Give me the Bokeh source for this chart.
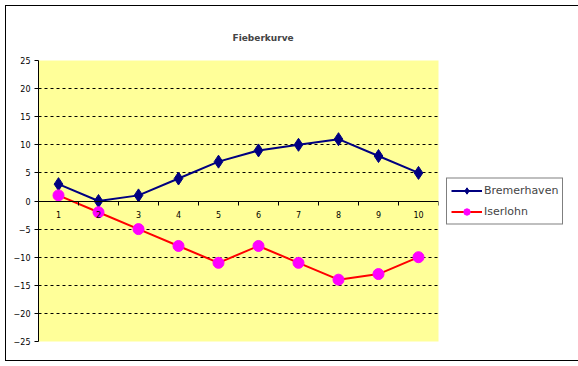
from bokeh.plotting import figure
from bokeh.models import FixedTicker, Legend, LegendItem, Range1d
from bokeh.embed import file_html
from bokeh.resources import INLINE

days = [1, 2, 3, 4, 5, 6, 7, 8, 9, 10]
bremerhaven = [3, 0, 1, 4, 7, 9, 10, 11, 8, 5]
iserlohn = [1, -2, -5, -8, -11, -8, -11, -14, -13, -10]
y_ticks = [-25, -20, -15, -10, -5, 0, 5, 10, 15, 20, 25]
grid_ticks = [-20, -15, -10, -5, 5, 10, 15, 20]
cat_bounds = [d - 0.5 for d in days] + [days[-1] + 0.5]

p = figure(frame_width=400, frame_height=281, output_backend="svg", toolbar_location=None,
           x_range=Range1d(0.5, 10.5), y_range=Range1d(-25, 25),
           min_border_left=32, min_border_right=134, min_border_top=54, min_border_bottom=19)
p.background_fill_color = "#FFFF99"
p.border_fill_color = "white"
p.outline_line_color = None
p.styles = {"border": "1px solid black", "margin": "5px"}

p.title.text = "Fieberkurve"
p.title.align = "left"
p.title.offset = 194
p.title.text_font = "DejaVu Sans"
p.title.text_font_size = "9px"
p.title.text_font_style = "bold"
p.title.standoff = 33
p.title.vertical_align = "middle"

yax = p.yaxis[0]
yax.ticker = FixedTicker(ticks=y_ticks, minor_ticks=[])
yax.major_label_text_font = "DejaVu Sans"
yax.major_label_text_font_size = "8px"
yax.major_label_text_color = "black"
yax.major_tick_in = 0
yax.major_tick_out = 4
yax.minor_tick_out = 0
yax.major_label_standoff = 4
yax.axis_line_color = "black"
yax.major_tick_line_color = "black"

xax = p.xaxis[0]
xax.ticker = FixedTicker(ticks=days, minor_ticks=cat_bounds)
xax.fixed_location = 0
xax.major_label_text_font = "DejaVu Sans"
xax.major_label_text_font_size = "8px"
xax.major_label_text_color = "black"
xax.major_tick_in = 0
xax.major_tick_out = 0
xax.minor_tick_in = 0
xax.minor_tick_out = 4
xax.minor_tick_line_color = "black"
xax.axis_line_color = "black"
xax.major_label_standoff = 6

p.ygrid.ticker = FixedTicker(ticks=grid_ticks)
p.ygrid.grid_line_color = "black"
p.ygrid.grid_line_dash = "3 3"
p.xgrid.visible = False

l1 = p.line(days, bremerhaven, line_color="#000080", line_width=2)
s1 = p.scatter(days, bremerhaven, marker="diamond", size=13, fill_color="#000080", line_color="#000080")
l2 = p.line(days, iserlohn, line_color="#FF0000", line_width=2)
s2 = p.scatter(days, iserlohn, marker="circle", size=11, fill_color="#FF00FF", line_color="#FF00FF")

legend = Legend(items=[LegendItem(label="Bremerhaven", renderers=[l1, s1]),
                       LegendItem(label="Iserlohn", renderers=[l2, s2])],
                location="left", orientation="vertical")
legend.border_line_color = "black"
legend.border_line_width = 1
legend.label_text_font = "DejaVu Sans"
legend.label_text_font_size = "11px"
legend.glyph_width = 31
legend.glyph_height = 16
legend.label_height = 16
legend.spacing = 5
legend.padding = 4
legend.margin = 8
legend.label_standoff = 2
legend.background_fill_color = "white"
p.add_layout(legend, "right")

open("out.html", "w").write(file_html(p, INLINE))
